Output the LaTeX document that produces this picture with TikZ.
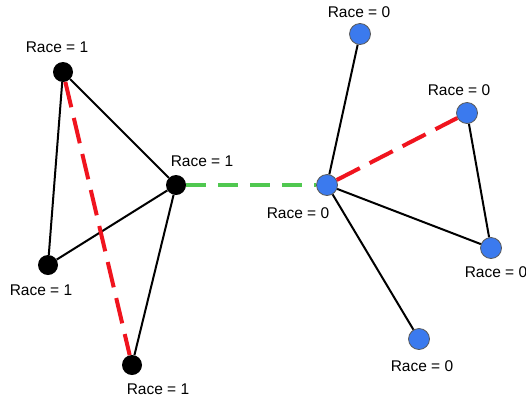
\documentclass[tikz,border=0pt]{standalone}
\usepackage{fontspec}
\setmainfont{Liberation Sans}
\definecolor{nodeblue}{RGB}{59,122,238}
\definecolor{cutred}{RGB}{240,20,30}
\definecolor{bridgegreen}{RGB}{80,200,80}
\tikzset{
  black node/.style={circle,fill=black,minimum size=20pt,inner sep=0pt},
  blue node/.style={circle,fill=nodeblue,draw=black!65,line width=.8pt,minimum size=21pt,inner sep=0pt},
  race/.style={font=\fontsize{15.5}{18}\selectfont,inner sep=0pt},
  tie/.style={line width=2pt},
  cut/.style={line width=4pt,cutred,dash pattern=on 26pt off 11pt},
  bridge/.style={line width=4pt,bridgegreen,dash pattern=on 20pt off 12pt}
}
\begin{document}
\begin{tikzpicture}[x=1pt,y=-1pt]
			\useasboundingbox (0,0) rectangle (526,397);
			\node[black node] at (63,72) (a) {};
			\node[black node] at (176,185) (b) {};
			\node[black node] at (48,265) (c) {};
			\node[black node] at (132,365) (d) {};
			\node[blue node] at (327,185) (e) {};
			\node[blue node] at (360,34) (f) {};
			\node[blue node] at (467,113) (g) {};
			\node[blue node] at (491,248) (h) {};
			\node[blue node] at (419,339) (i) {};
			%
			\node[race] at (57,47) (la) {Race = 1};
			\node[race] at (202,161) (lb) {Race = 1};
			\node[race] at (41,290) (lc) {Race = 1};
			\node[race] at (158,389) (ld) {Race = 1};
			\node[race] at (298,213) (le) {Race = 0};
			\node[race] at (359,12) (lf) {Race = 0};
			\node[race] at (459,90) (lg) {Race = 0};
			\node[race] at (496,272) (lh) {Race = 0};
			\node[race] at (422,366) (li) {Race = 0};
			%
			\draw[tie] (a) -- (b);
			\draw[tie] (a) -- (c);
			\draw[tie] (c) -- (b);
			\draw[tie] (b) -- (d);
			\draw[cut] (a) -- (d);
			\draw[bridge] (b) -- (e);
			\draw[tie] (e) -- (f);
			\draw[tie] (g) -- (h);
			\draw[tie] (e) -- (h);
			\draw[tie] (e) -- (i);
			\draw[cut] (e) -- (g);
		\end{tikzpicture}
\end{document}
